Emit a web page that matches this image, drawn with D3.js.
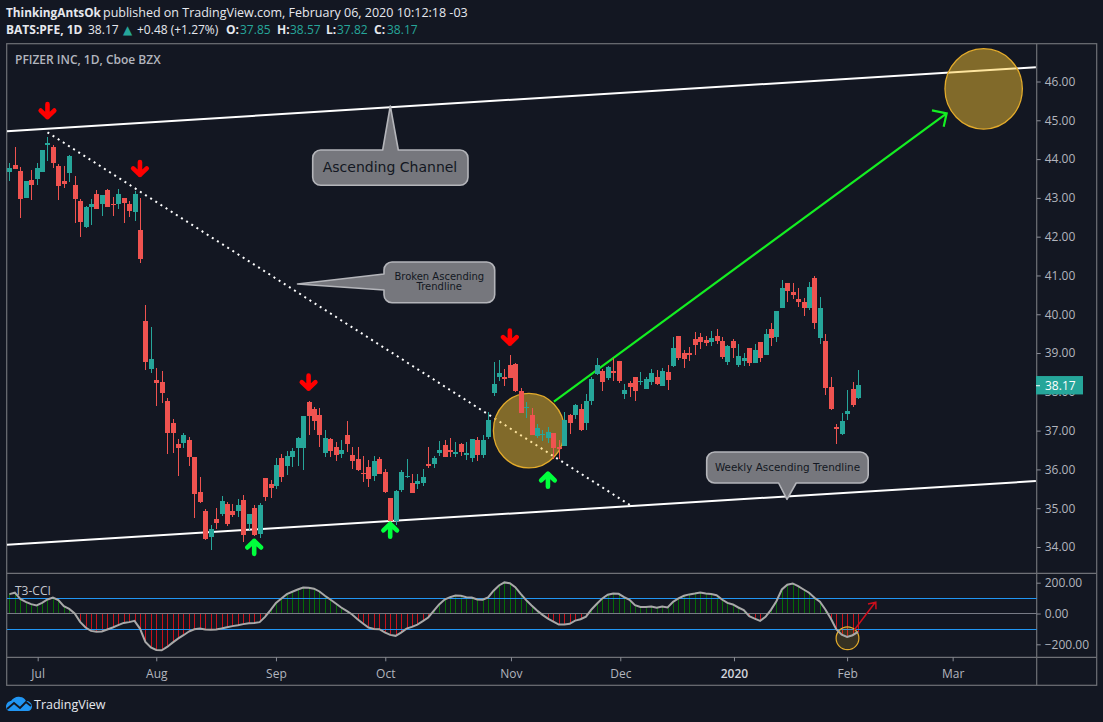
<!DOCTYPE html>
<html><head><meta charset="utf-8">
<style>
html,body{margin:0;padding:0;background:#131722;overflow:hidden}
svg{display:block}
text{font-family:"Open Sans",sans-serif}
.tick text{fill:#b2b5be;font-size:12px}
.callout text{font-family:"DejaVu Sans",sans-serif;fill:#131722;text-anchor:middle}
</style>
<script src="https://cdn.jsdelivr.net/npm/d3@7/dist/d3.min.js"></script>
</head><body><svg id="c" width="1103" height="722"></svg>
<script>
const opens=[43.67,43.85,43.69,43.00,43.46,43.49,43.67,44.36,44.31,43.82,
43.44,43.64,43.33,42.92,42.25,42.77,43.10,42.84,43.20,42.84,
42.84,43.00,42.84,42.64,42.17,39.83,38.59,38.31,38.26,37.77,
37.20,36.66,36.68,36.76,36.32,35.42,34.93,34.26,34.72,34.85,
35.11,34.93,34.93,35.21,34.60,35.01,34.34,35.78,35.63,35.58,
36.30,36.09,36.32,36.55,36.55,37.74,37.56,37.41,36.43,36.79,
36.58,36.40,36.89,36.37,36.27,35.91,36.06,35.83,36.27,35.94,
35.27,34.67,35.47,35.81,35.65,35.63,35.65,36.14,36.14,36.43,
36.63,36.50,36.40,36.66,36.37,36.30,36.76,36.37,36.84,37.97,
38.38,38.38,38.69,38.72,38.02,37.59,37.40,36.86,36.89,36.81,
36.94,36.58,36.61,37.40,37.40,37.56,37.20,37.77,38.46,38.54,
38.36,38.54,38.80,37.95,38.23,38.38,38.26,38.08,38.26,38.38,
38.15,38.51,38.67,39.44,39.00,39.00,39.36,39.42,39.34,39.29,
39.44,39.31,38.77,39.31,38.69,38.80,39.13,38.75,39.29,38.95,
39.62,39.42,40.16,40.81,40.58,40.39,40.32,40.16,40.94,39.39,
39.31,38.13,37.10,36.92,37.43,38.08,37.85];
const closes=[43.78,43.74,42.97,43.44,43.32,43.77,44.23,44.41,43.90,43.31,
43.35,44.08,42.97,42.38,42.77,42.84,42.71,43.07,42.77,42.82,
43.10,42.87,42.66,43.10,41.43,38.77,38.85,38.23,37.97,36.94,
36.94,36.55,36.89,36.32,35.37,35.16,34.21,34.47,34.62,35.19,
34.60,34.83,35.09,34.31,34.85,34.31,35.09,35.29,35.52,36.12,
35.81,36.35,36.48,36.81,37.38,37.38,37.25,36.89,36.81,36.48,
36.37,36.50,36.66,36.22,35.99,35.89,35.76,36.22,35.88,35.42,
34.67,35.45,35.94,35.83,35.40,35.70,35.81,36.09,36.30,36.50,
36.32,36.45,36.45,36.45,36.43,36.79,36.37,36.76,37.28,38.20,
38.49,38.33,38.36,38.02,37.46,37.61,36.89,37.07,36.92,36.97,
36.55,36.53,37.28,37.20,37.66,37.02,37.77,38.33,38.69,38.26,
38.64,38.49,38.28,38.05,38.13,38.02,38.28,38.33,38.49,38.20,
38.54,38.31,39.13,38.87,38.85,38.95,39.21,39.29,39.26,39.39,
39.31,38.90,39.18,39.13,38.93,38.87,38.75,39.08,38.87,39.49,
39.39,40.09,40.68,40.60,40.50,40.32,40.16,40.70,39.78,40.16,
38.10,37.56,37.04,37.25,37.51,37.66,38.17];
const highs=[43.89,44.31,43.80,43.44,43.72,43.89,44.23,44.57,44.36,43.87,
43.82,44.11,43.56,42.97,42.79,42.97,43.20,43.07,43.23,43.02,
43.23,43.00,42.92,43.18,43.00,40.24,39.67,38.62,38.54,37.84,
37.30,36.79,36.94,36.84,36.32,35.81,34.98,34.57,35.01,35.32,
35.16,35.11,35.24,35.34,34.85,35.09,35.14,35.78,35.73,36.30,
36.40,36.48,36.55,36.84,37.38,37.77,37.61,37.59,37.02,36.81,
36.71,36.76,37.25,36.58,36.58,36.35,36.24,36.35,36.32,36.01,
35.27,35.47,35.99,36.27,35.88,35.88,36.01,36.58,36.35,36.74,
36.76,36.81,36.71,36.68,36.71,36.79,36.84,36.89,37.48,38.77,
38.82,38.59,38.95,38.75,38.10,37.74,37.59,37.17,37.02,37.10,
36.94,36.76,37.48,37.43,37.69,37.69,37.95,38.38,38.87,38.59,
38.67,38.87,38.80,38.20,38.28,38.38,38.51,38.38,38.59,38.57,
38.62,38.69,39.42,39.44,39.08,39.16,39.54,39.52,39.44,39.57,
39.62,39.42,39.21,39.36,39.24,39.00,39.13,39.24,39.29,39.62,
39.78,40.09,40.88,40.81,40.81,40.68,40.42,40.83,40.99,40.45,
39.49,38.38,37.17,37.46,38.05,38.26,38.57];
const lows=[43.44,43.74,42.48,43.00,42.95,43.33,43.67,43.95,43.78,42.95,
43.26,43.41,42.35,41.99,42.22,42.30,42.71,42.53,42.77,42.53,
42.71,42.35,42.51,42.40,41.32,38.57,38.49,37.64,37.71,36.40,
36.43,35.83,36.55,36.09,34.75,35.14,34.18,33.93,34.47,34.80,
34.54,34.78,34.78,34.13,34.44,34.29,34.23,35.19,35.27,35.50,
35.68,35.86,36.07,36.09,35.99,36.89,37.02,36.58,36.32,36.32,
36.22,36.30,36.45,36.01,35.96,35.68,35.55,35.70,35.88,35.39,
34.67,34.57,35.42,35.78,35.40,35.50,35.58,36.04,36.04,36.35,
36.32,36.32,36.32,36.35,36.25,36.19,36.22,36.30,36.79,37.90,
38.28,38.15,38.36,38.00,37.46,37.33,36.89,36.81,36.73,36.68,
36.27,36.27,36.61,36.92,37.30,36.99,37.02,37.66,38.44,38.02,
38.31,38.28,38.23,37.82,37.87,37.77,38.18,38.08,38.18,38.18,
38.15,38.05,38.64,38.82,38.62,38.80,38.95,39.11,39.18,39.18,
39.24,38.85,38.69,38.87,38.64,38.67,38.67,38.75,38.77,38.95,
39.18,39.29,40.16,40.32,40.39,40.19,39.96,40.11,39.62,39.24,
37.92,37.53,36.66,36.89,37.28,37.61,37.82];
const cci=[126,135,95,76,61,52,69,91,104,87,
48,30,0,-54,-91,-113,-119,-117,-104,-91,
-76,-61,-56,-48,-98,-184,-221,-237,-239,-217,
-189,-163,-141,-117,-102,-98,-104,-106,-104,-98,
-89,-82,-76,-69,-63,-61,-56,-22,22,69,
98,126,141,156,169,167,161,143,115,91,
65,39,17,-6,-37,-65,-91,-100,-102,-122,
-139,-145,-124,-98,-87,-72,-50,-26,17,59,
91,106,117,115,106,104,91,89,104,148,
182,202,197,171,128,87,52,20,-9,-33,
-52,-72,-72,-67,-46,-37,-20,26,63,98,
122,130,128,106,89,54,43,43,46,37,
46,39,76,98,115,124,130,137,130,126,
119,91,69,59,39,22,-17,-33,-48,-22,
24,80,156,187,195,178,156,135,102,76,
26,-33,-102,-137,-152,-141,-119];
const priceTicks=[34,35,36,37,38,39,40,41,42,43,44,45,46];
const cciTicks=[-200,0,200];
const cciLevels=[100,-100];
const monthTicks=[5.2,27,49,69.1,92.2,112.3,133.2,154,173.4];
const monthLabels=["Jul","Aug","Sep","Oct","Nov","Dec","2020","Feb","Mar"];
const lastPrice=38.17;
const channelTop=[[-0.44,44.72],[188.7,46.37]];
const channelBottom=[[-0.44,34.06],[188.7,35.70]];
const brokenTrend=[[7,44.69],[114.2,35.07]];
const greenArrow=[[100.1,37.75],[172.3,45.18]];
const downMarks=[[7,45.03],[24,43.54],[55,38.03],[92,39.19]];
const upMarks=[[45,34.21],[70,34.65],[99,35.94]];
const circles=[[95.5,37.0,35.5,37.3],[179.1,45.81,38.7,40.2]];

const svg=d3.select("#c");
const BG="#131722",UP="#26a69a",DOWN="#ef5350";
const L=6.7,R=1036.7,RR=1096.7,T=43.7,B1=573.3,B2=657.3,BB=685.3;
const x=d3.scaleLinear([0,156],[9.4,858]);
const y=d3.scaleLinear([34,46],[547,81.5]);
const yc=d3.scaleLinear([-200,200],[644.3,582.7]);
const line=d3.line().x(d=>x(d[0])).y(d=>y(d[1]));
const defs=svg.append("defs");
defs.append("clipPath").attr("id","main").append("rect").attr("x",L).attr("y",T).attr("width",R-L).attr("height",B1-T);
defs.append("clipPath").attr("id","sub").append("rect").attr("x",L).attr("y",B1).attr("width",R-L).attr("height",B2-B1);

// header
const head=svg.append("g").attr("fill","#e6e8ee");
const h1=head.append("text").attr("y",17);
h1.append("tspan").attr("x",6).attr("font-size",11.8).attr("font-weight",700).text("ThinkingAntsOk");
h1.append("tspan").attr("x",103).attr("font-size",12.5).text("published on TradingView.com, February 06, 2020 10:12:18 -03");
const h2=head.append("text").attr("y",34).attr("font-size",12);
[["BATS:PFE, 1D",1,6],["38.17",0,88],["▲",3,123],["+0.48 (+1.27%)",0,137],["O:",1,226],["37.85",2,240],["H:",1,277],["38.57",2,290],["L:",1,326],["37.82",2,337],["C:",1,374],["38.17",2,387]]
.forEach(([t,k,px0])=>{const s=h2.append("tspan").attr("x",px0).attr("font-weight",k==1?700:400).attr("fill",k>=2?UP:"#e6e8ee").text(t);
 if(k==3)s.style("font-family","'DejaVu Sans'");});

// frame
const frame=svg.append("g").attr("fill","none").attr("stroke","#6f7177").attr("stroke-width",1.2);
frame.append("rect").attr("x",L).attr("y",T).attr("width",RR-L).attr("height",BB-T);
frame.append("path").attr("d",`M${R},${T}V${BB}M${L},${B1}H${RR}M${L},${B2}H${RR}`);

// main drawings (below candles)
const draw=svg.append("g").attr("clip-path","url(#main)");
draw.append("path").attr("d",line(brokenTrend)).attr("stroke","#fff").attr("stroke-width",2).attr("stroke-dasharray","2 4.1").attr("fill","none");
[channelTop,channelBottom].forEach(d=>draw.append("path").attr("d",line(d)).attr("stroke","#fff").attr("stroke-width",2).attr("fill","none"));
const gb=greenArrow[1];
const tipx=x(gb[0]),tipy=y(gb[1]);
draw.append("path").attr("d",line(greenArrow)+`M${tipx-14.7},${tipy-3}L${tipx},${tipy}L${tipx-3},${tipy+13.4}`)
  .attr("stroke","#14ee22").attr("stroke-width",2.2).attr("fill","none");
draw.selectAll("ellipse").data(circles).join("ellipse")
  .attr("cx",d=>x(d[0])).attr("cy",d=>y(d[1])).attr("rx",d=>d[2]).attr("ry",d=>d[3])
  .attr("fill","rgba(253,200,50,0.47)").attr("stroke","#e3ab2b").attr("stroke-width",1.3);

// candles
const idx=d3.range(opens.length);
const cg=svg.append("g").attr("clip-path","url(#main)").attr("shape-rendering","crispEdges");
const col=i=>closes[i]>=opens[i]?UP:DOWN;
const px=i=>Math.round(x(i));
cg.selectAll(".w").data(idx).join("rect").attr("class","w")
  .attr("x",i=>px(i)).attr("width",1).attr("y",i=>y(highs[i])).attr("height",i=>y(lows[i])-y(highs[i])).attr("fill",col);
cg.selectAll(".b").data(idx).join("rect").attr("class","b")
  .attr("x",i=>px(i)-2).attr("width",5)
  .attr("y",i=>y(Math.max(opens[i],closes[i])))
  .attr("height",i=>Math.max(1,Math.abs(y(opens[i])-y(closes[i])))).attr("fill",col);

// marker arrows
const marks=svg.append("g").attr("fill","none").attr("stroke-width",4.6).attr("stroke-linejoin","round").attr("stroke-linecap","round");
downMarks.forEach(([i,p])=>{const a=x(i),b=y(p);
 marks.append("path").attr("stroke","#ff0000").attr("d",`M${a},${b-15}V${b-2}M${a-6.8},${b-8.6}L${a},${b-2}L${a+6.8},${b-8.6}`);});
upMarks.forEach(([i,p])=>{const a=x(i),b=y(p);
 marks.append("path").attr("stroke","#00ff3c").attr("d",`M${a},${b+15}V${b+2}M${a-6.8},${b+8.6}L${a},${b+2}L${a+6.8},${b+8.6}`);});

// callouts
function callout(d,lines,size,cx,ys){
 const g=svg.append("g").attr("class","callout");
 g.append("path").attr("d",d).attr("fill","#76777d").attr("stroke","#b4b5ba").attr("stroke-width",1.6).attr("stroke-linejoin","round");
 lines.forEach((t,k)=>g.append("text").attr("x",cx).attr("y",ys[k]).attr("font-size",size).text(t));
}
callout("M320.7,150H382.7L390.3,106L398.3,150H460A8,8 0 0 1 468,158V177.3A8,8 0 0 1 460,185.3H320.7A8,8 0 0 1 312.7,177.3V158A8,8 0 0 1 320.7,150Z",["Ascending Channel"],14,390,[172]);
callout("M392,262H486.7A8,8 0 0 1 494.7,270V294.7A8,8 0 0 1 486.7,302.7H392A8,8 0 0 1 384,294.7V290L297.5,284L384,274V270A8,8 0 0 1 392,262Z",["Broken Ascending","Trendline"],10,439.3,[280,290]);
callout("M714.7,452H860.2A8,8 0 0 1 868.2,460V475A8,8 0 0 1 860.2,483H796.2L787,499.3L778.6,483H714.7A8,8 0 0 1 706.7,475V460A8,8 0 0 1 714.7,452Z",["Weekly Ascending Trendline"],10.4,787.5,[470.5]);

// price axis
const ya=svg.append("g").attr("transform",`translate(${R},0)`).call(d3.axisRight(y).tickValues(priceTicks).tickSize(4).tickPadding(4).tickFormat(d3.format(".2f")));
ya.select(".domain").remove();ya.selectAll("line").attr("stroke","#8a8d96");
const badge=svg.append("g");
badge.append("rect").attr("x",1036).attr("y",y(lastPrice)-9.2).attr("width",47).attr("height",18.4).attr("fill",UP);
badge.append("path").attr("d",`M1036,${y(lastPrice)+.5}h4`).attr("stroke","#fff");
badge.append("text").attr("x",1045).attr("y",y(lastPrice)+4.3).attr("fill","#fff").attr("font-size",12).text(lastPrice.toFixed(2));

// T3-CCI pane
const sub=svg.append("g").attr("clip-path","url(#sub)");
sub.selectAll(".h").data(idx).join("rect").attr("class","h").attr("shape-rendering","crispEdges")
 .attr("x",i=>px(i)).attr("width",1).attr("y",i=>Math.min(yc(0),yc(cci[i]))).attr("height",i=>Math.abs(yc(cci[i])-yc(0)))
 .attr("fill",i=>cci[i]>=0?"#056b05":"#c9101a");
sub.append("path").attr("d",`M${L},${yc(0)}H${R}`).attr("stroke","#787b86").attr("stroke-width",1).attr("shape-rendering","crispEdges");
sub.selectAll(".lv").data(cciLevels).join("path").attr("class","lv").attr("d",d=>`M${L},${yc(d)+.4}H${R}`).attr("stroke","#2196f3").attr("stroke-width",1).attr("shape-rendering","crispEdges");
sub.append("ellipse").attr("cx",847.5).attr("cy",638.3).attr("rx",11.4).attr("ry",11.4)
 .attr("fill","rgba(253,200,50,0.15)").attr("stroke","#e3ab2b").attr("stroke-width",1.2);
sub.append("path").attr("d",d3.line().x(i=>x(i)).y(i=>yc(cci[i]))(idx)).attr("fill","none").attr("stroke","#a8a8a8").attr("stroke-width",2);
sub.append("path").attr("d","M854.3,630L875.3,602.3M868,604L875.8,602.3L876,609.3").attr("fill","none").attr("stroke","#cc0f1c").attr("stroke-width",1.5);
svg.append("text").attr("x",15).attr("y",595).attr("fill","#c3c6ce").attr("font-size",12).text("T3-CCI");
const ca=svg.append("g").attr("transform",`translate(${R},0)`).call(d3.axisRight(yc).tickValues(cciTicks).tickSize(4).tickPadding(4).tickFormat(d=>(d<0?"−":"")+Math.abs(d).toFixed(2)));
ca.select(".domain").remove();ca.selectAll("line").attr("stroke","#8a8d96");

// time axis
const xa=svg.append("g").attr("transform",`translate(0,${B2})`).call(d3.axisBottom(x).tickValues(monthTicks).tickSize(4).tickPadding(8).tickFormat((d,i)=>monthLabels[i]));
xa.select(".domain").remove();xa.selectAll("line").attr("stroke","#8a8d96");
xa.selectAll("text").filter((d,i)=>monthLabels[i]==="2020").attr("font-weight",600).style("fill","#d1d4dc");

// legend + logo
svg.append("text").attr("x",15).attr("y",64).attr("fill","#b2b5be").attr("font-size",12).attr("font-weight",600).text("PFIZER INC, 1D, Cboe BZX");
const logo=svg.append("g");
logo.append("path").attr("fill","#2196f3").attr("d","M6,707C6,703 9,701 11,701C13,698 17,696 20,697C23,697 25,699 26,701C29,701 32,703 32,706.5C32,709 30,711 28,711H9.5C7.5,711 6,709 6,707Z");
logo.append("path").attr("fill","none").attr("stroke",BG).attr("stroke-width",1.8).attr("d","M7,709L14,703L20,708L26,702L31,706");
svg.append("text").attr("x",34).attr("y",709).attr("fill","#e6e8ee").attr("font-size",12.5).text("TradingView");
</script></body></html>
